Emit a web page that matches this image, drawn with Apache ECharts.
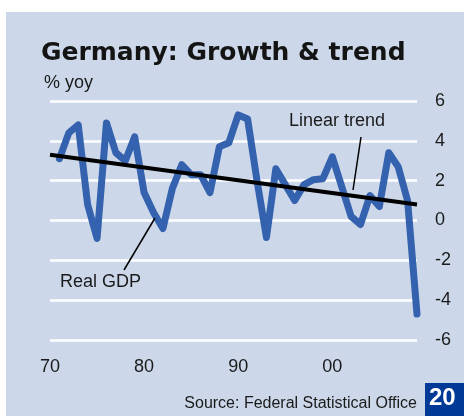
<!DOCTYPE html>
<html><head><meta charset="utf-8">
<script src="https://cdn.jsdelivr.net/npm/echarts@6/dist/echarts.min.js"></script>
<style>html,body{margin:0;padding:0;background:#fff}#c{width:464px;height:416px}</style>
</head><body><div id="c"></div>
<script>
const years = [1971,1972,1973,1974,1975,1976,1977,1978,1979,1980,1981,1982,1983,1984,1985,1986,1987,1988,1989,1990,1991,1992,1993,1994,1995,1996,1997,1998,1999,2000,2001,2002,2003,2004,2005,2006,2007,2008,2009];
const gdp = [3.1,4.4,4.8,0.8,-0.9,4.9,3.4,3.0,4.2,1.4,0.4,-0.4,1.6,2.8,2.3,2.3,1.4,3.7,3.9,5.3,5.1,2.0,-0.85,2.6,1.8,1.0,1.8,2.05,2.1,3.2,1.7,0.2,-0.2,1.25,0.7,3.4,2.7,1.0,-4.7];
const trendYears = [1970, 2009];
const trendValues = [3.3, 0.8];
const yTicks = [-6,-4,-2,0,2,4,6];
const xTickLabels = {1970:'70',1980:'80',1990:'90',2000:'00'};

const chart = echarts.init(document.getElementById('c'), null, {renderer:'canvas'});
const FONT = 'Liberation Sans';
chart.setOption({
  animation:false,
  backgroundColor:'#ffffff',
  title:[
    {text:'Germany: Growth & trend', left:36, top:36, textStyle:{fontFamily:'DejaVu Sans', fontWeight:'bold', fontSize:25, color:'#141414'}},
    {text:'% yoy', left:39, top:69, textStyle:{fontFamily:FONT, fontWeight:'normal', fontSize:18, color:'#1a1a1a'}}
  ],
  graphic:[
    {type:'rect', z:-10, shape:{x:6,y:12,width:458,height:404}, style:{fill:'#ccd8e9'}},
    {type:'rect', z:10, shape:{x:425,y:383,width:39,height:33}, style:{fill:'#003a96'}},
    {type:'text', z:11, left:429, top:386, style:{text:'20', fill:'#ffffff', font:'bold 24px "Liberation Sans"'}},
    {type:'text', z:11, right:47, top:396, style:{text:'Source: Federal Statistical Office', fill:'#1a1a1a', font:'16px "Liberation Sans"', textAlign:'right'}},
    {type:'text', z:11, left:289, top:112, style:{text:'Linear trend', fill:'#1a1a1a', font:'18px "Liberation Sans"'}},
    {type:'line', z:11, shape:{x1:361,y1:137,x2:353,y2:190}, style:{stroke:'#000', lineWidth:1.5}},
    {type:'text', z:11, left:60, top:273, style:{text:'Real GDP', fill:'#1a1a1a', font:'18px "Liberation Sans"'}},
    {type:'line', z:11, shape:{x1:155,y1:218,x2:124,y2:270}, style:{stroke:'#000', lineWidth:1.5}}
  ],
  grid:{left:50, right:47, top:101, bottom:76, containLabel:false},
  xAxis:{type:'value', min:1970, max:2009, interval:10,
    axisLine:{show:false}, axisTick:{show:false}, splitLine:{show:false},
    axisLabel:{margin:18, fontFamily:FONT, fontSize:18, color:'#1a1a1a',
      formatter:v=> xTickLabels[v] || ''}},
  yAxis:{type:'value', position:'right', min:-6, max:6, interval:2,
    axisLine:{show:false}, axisTick:{show:false},
    splitLine:{lineStyle:{color:'#ffffff', width:2.5}},
    axisLabel:{margin:18, align:'left', fontFamily:FONT, fontSize:18, color:'#1a1a1a',
      formatter:v=> yTicks.includes(v) ? String(v) : ''}},
  series:[
    {type:'line', data:years.map((y,i)=>[y,gdp[i]]), showSymbol:false, symbol:'none',
      lineStyle:{color:'#3462ae', width:7, cap:'round', join:'round'}, z:3},
    {type:'line', data:trendYears.map((y,i)=>[y,trendValues[i]]), showSymbol:false, symbol:'none',
      lineStyle:{color:'#000000', width:4}, z:4}
  ]
});
</script></body></html>
